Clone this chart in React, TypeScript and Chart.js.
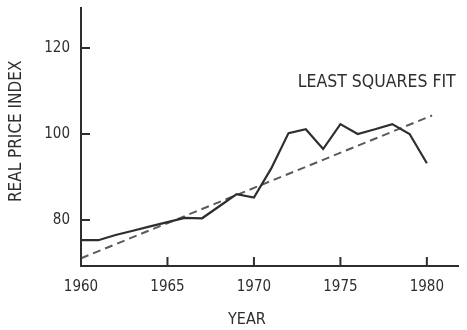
import React, { useEffect, useRef } from "react";
import { Chart, registerables } from "chart.js";

Chart.register(...registerables);

const years = [1960, 1961, 1962, 1963, 1964, 1965, 1966, 1967, 1968, 1969, 1970, 1971, 1972, 1973, 1974, 1975, 1976, 1977, 1978, 1979, 1980];
const priceIndex = [75.3, 75.3, 76.5, 77.5, 78.5, 79.5, 80.5, 80.4, 83.2, 86.0, 85.2, 92.0, 100.2, 101.1, 96.5, 102.3, 100.0, 101.1, 102.3, 100.0, 93.2];
const fitYears = [1960, 1980.3];
const fitValues = [71.1, 104.3];
const xTicks = [1960, 1965, 1970, 1975, 1980];
const yTicks = [80, 100, 120];
const fitLabel = "LEAST SQUARES FIT";
const fitLabelAt = [1977.1, 112.1];
const xTitle = "YEAR";
const yTitle = "REAL PRICE INDEX";

const FAMILY = "'DejaVu Sans Condensed', 'Liberation Sans', sans-serif";
const INK = "#2e2e2e";

const decor = {
  id: "decor",
  afterDraw(chart: any) {
    const { ctx } = chart;
    const x = chart.scales.x;
    const y = chart.scales.y;
    ctx.save();
    ctx.strokeStyle = INK;
    ctx.lineWidth = 2;
    for (const t of xTicks) {
      const px = x.getPixelForValue(t);
      ctx.beginPath();
      ctx.moveTo(px, y.bottom);
      ctx.lineTo(px, y.bottom - 9);
      ctx.stroke();
    }
    for (const t of yTicks) {
      const py = y.getPixelForValue(t);
      ctx.beginPath();
      ctx.moveTo(x.left, py);
      ctx.lineTo(x.left + 9, py);
      ctx.stroke();
    }
    ctx.fillStyle = INK;
    ctx.textAlign = "center";
    ctx.textBaseline = "middle";
    ctx.font = `17.5px ${FAMILY}`;
    ctx.fillText(fitLabel, x.getPixelForValue(fitLabelAt[0]), y.getPixelForValue(fitLabelAt[1]));
    // axis titles
    const area = chart.chartArea;
    ctx.font = `16px ${FAMILY}`;
    ctx.fillText(xTitle, area.left + (area.right - area.left) * 0.44, 320);
    ctx.save();
    ctx.translate(17, area.top + (area.bottom - area.top) * 0.478);
    ctx.rotate(-Math.PI / 2);
    ctx.font = `17px ${FAMILY}`;
    ctx.fillText(yTitle, 0, 0);
    ctx.restore();
    ctx.restore();
  },
};

export default function App() {
  const ref = useRef<HTMLCanvasElement | null>(null);
  useEffect(() => {
    document.body.style.margin = "0";
    const canvas = ref.current;
    if (!canvas) return;
    const chart = new Chart(canvas, {
      type: "line",
      data: {
        datasets: [
          {
            data: years.map((yr, i) => ({ x: yr, y: priceIndex[i] })),
            borderColor: INK,
            borderWidth: 2.2,
            pointRadius: 0,
            tension: 0,
            fill: false,
          },
          {
            data: fitYears.map((yr, i) => ({ x: yr, y: fitValues[i] })),
            borderColor: "#5a5a5a",
            borderWidth: 2,
            borderDash: [8, 5],
            pointRadius: 0,
            tension: 0,
            fill: false,
          },
        ],
      },
      options: {
        animation: false,
        responsive: false,
        maintainAspectRatio: false,
        layout: { padding: { top: 8, right: 9, bottom: 0, left: 0 } },
        plugins: { legend: { display: false }, tooltip: { enabled: false } },
        scales: {
          x: {
            type: "linear",
            min: 1960,
            max: 1981.8,
            afterBuildTicks: (s: any) => {
              s.ticks = xTicks.map((v) => ({ value: v }));
            },
            afterFit: (s: any) => {
              s.height = 64;
              s.paddingLeft = 0;
              s.paddingRight = 0;
            },
            grid: { drawOnChartArea: false, drawTicks: false },
            border: { display: true, color: INK, width: 2 },
            ticks: {
              autoSkip: false,
              maxRotation: 0,
              padding: 12,
              color: INK,
              font: { family: FAMILY, size: 15 },
              callback: (v: any) => String(v),
            },
            title: { display: false, text: xTitle },
          },
          y: {
            type: "linear",
            min: 69.3,
            max: 129.3,
            afterBuildTicks: (s: any) => {
              s.ticks = yTicks.map((v) => ({ value: v }));
            },
            afterFit: (s: any) => {
              s.width = 81;
              s.paddingTop = 0;
              s.paddingBottom = 0;
            },
            grid: { drawOnChartArea: false, drawTicks: false },
            border: { display: true, color: INK, width: 2 },
            ticks: {
              padding: 11,
              color: INK,
              font: { family: FAMILY, size: 15 },
              callback: (v: any) => String(v),
            },
            title: { display: false, text: yTitle },
          },
        },
      },
      plugins: [decor],
    });
    return () => chart.destroy();
  }, []);
  return (
    <div style={{ width: 467, height: 330 }}>
      <canvas ref={ref} width={467} height={330} style={{ display: "block" }} />
    </div>
  );
}
